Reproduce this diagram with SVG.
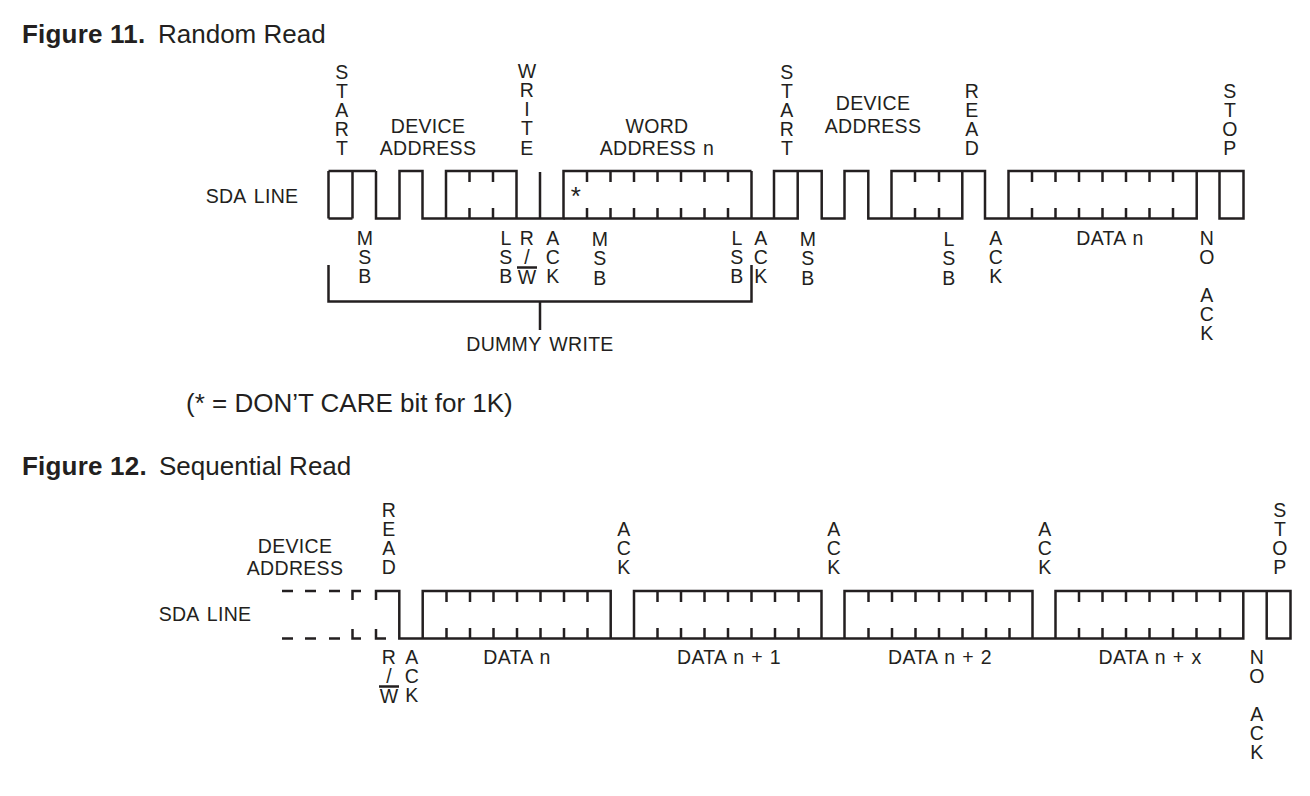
<svg xmlns="http://www.w3.org/2000/svg" width="1310" height="796" viewBox="0 0 1310 796">
<style>
text{font-family:"Liberation Sans",Arial,sans-serif;fill:#231f20}
.l{font-size:19.5px;text-anchor:middle;letter-spacing:.3px;word-spacing:2.5px}
.n{word-spacing:1.2px}
.h{font-size:26px}
.b{font-weight:bold;letter-spacing:.2px}
.w{fill:none;stroke:#231f20;stroke-width:2.5;stroke-linejoin:miter}
.d{fill:none;stroke:#231f20;stroke-width:2.5}
</style>
<rect width="1310" height="796" fill="#fff"/>
<g id="titles">
<text class="h b" x="22" y="42.5">Figure 11.</text>
<text class="h" x="158" y="42.5">Random Read</text>
<text class="h" x="186" y="412">(* = DON’T CARE bit for 1K)</text>
<text class="h b" x="22" y="475">Figure 12.</text>
<text class="h" x="159" y="475">Sequential Read</text>
</g>
<g id="connectors">
<path class="w" d="M328.5 171H376M328.5 218.5H352.5M328.5 171V218.5M352.5 171V218.5M376 171V218.5H399.5V171H422.5V218.5H563.5V171H751.5M446 218.5V171H516.5V218.5M540 172V218.5M469.5 171V182M493 171V182M469.5 218.5V208M493 218.5V208"/>
<path class="w" d="M563.5 218.5H774V171H821.7V218.5H844.5V171H868.3V218.5H962.3V171H985V218.5H1008.5V171H1243.5V218.5H1219.5V171M751.5 171V218.5M774 218.5H797.7V171M891.5 218.5V171H962.3M1008.5 218.5H1196.7V171"/>
<path class="w" d="M587 171V182M610.5 171V182M634 171V182M657.5 171V182M681 171V182M704.5 171V182M728 171V182M587 218.5V208M610.5 218.5V208M634 218.5V208M657.5 218.5V208M681 218.5V208M704.5 218.5V208M728 218.5V208M915 171V182M939 171V182M915 218.5V208M939 218.5V208M1032 171V182M1055.5 171V182M1079 171V182M1102.5 171V182M1126 171V182M1149.5 171V182M1173 171V182M1032 218.5V208M1055.5 218.5V208M1079 218.5V208M1102.5 218.5V208M1126 218.5V208M1149.5 218.5V208M1173 218.5V208"/>
<path class="w" d="M328.5 265V301.5H751.5V265M540 301.5V330"/>
<path class="d" d="M282 591H293M305 591H316M329 591H340M352.5 600V591H361M282 638.5H293M305 638.5H316M329 638.5H340M352.5 629V638.5H361M376 600V591H399.3V638.5H422.7V591H610.7V638.5H634V591H821.5V638.5H844.5V591H1032.5V638.5H1055.5V591H1290.5V638.5H1266.7V591M376 629V638.5H386M422.7 638.5H610.7M634 638.5H821.5M844.5 638.5H1032.5M1055.5 638.5H1243.3V591"/>
<path class="w" d="M446.5 591V602M470 591V602M493.5 591V602M517 591V602M540.5 591V602M564 591V602M587.5 591V602M446.5 638.5V628M470 638.5V628M493.5 638.5V628M517 638.5V628M540.5 638.5V628M564 638.5V628M587.5 638.5V628M657.5 591V602M681 591V602M704.5 591V602M728 591V602M751.5 591V602M775 591V602M798.5 591V602M657.5 638.5V628M681 638.5V628M704.5 638.5V628M728 638.5V628M751.5 638.5V628M775 638.5V628M798.5 638.5V628M868.5 591V602M892 591V602M915.5 591V602M939 591V602M962.5 591V602M986 591V602M1009.5 591V602M868.5 638.5V628M892 638.5V628M915.5 638.5V628M939 638.5V628M962.5 638.5V628M986 638.5V628M1009.5 638.5V628M1079 591V602M1102.5 591V602M1126 591V602M1149.5 591V602M1173 591V602M1196.5 591V602M1220 591V602M1079 638.5V628M1102.5 638.5V628M1126 638.5V628M1149.5 638.5V628M1173 638.5V628M1196.5 638.5V628M1220 638.5V628"/>
<path class="w" d="M517 267.5H537M379 686.5H399"/>
</g>
<g id="fig11-top">
<text class="l"><tspan x="342" y="79">S</tspan><tspan x="342" y="98">T</tspan><tspan x="342" y="117">A</tspan><tspan x="342" y="136">R</tspan><tspan x="342" y="155">T</tspan></text>
<text class="l"><tspan x="428" y="133">DEVICE</tspan><tspan x="428" y="155">ADDRESS</tspan></text>
<text class="l"><tspan x="527" y="78">W</tspan><tspan x="527" y="97">R</tspan><tspan x="527" y="116">I</tspan><tspan x="527" y="135">T</tspan><tspan x="527" y="155">E</tspan></text>
<text class="l n"><tspan x="657" y="133">WORD</tspan><tspan x="657" y="155">ADDRESS n</tspan></text>
<text class="l"><tspan x="787" y="79">S</tspan><tspan x="787" y="98">T</tspan><tspan x="787" y="117">A</tspan><tspan x="787" y="136">R</tspan><tspan x="787" y="155">T</tspan></text>
<text class="l"><tspan x="873" y="110">DEVICE</tspan><tspan x="873" y="133">ADDRESS</tspan></text>
<text class="l"><tspan x="972" y="98">R</tspan><tspan x="972" y="117">E</tspan><tspan x="972" y="136">A</tspan><tspan x="972" y="155">D</tspan></text>
<text class="l"><tspan x="1230" y="98">S</tspan><tspan x="1230" y="117">T</tspan><tspan x="1230" y="136">O</tspan><tspan x="1230" y="155">P</tspan></text>
<text class="l" x="252" y="203">SDA LINE</text>
<text class="l" x="576" y="205" style="font-size:26px">*</text>
</g>
<g id="fig11-bottom">
<text class="l"><tspan x="365" y="245">M</tspan><tspan x="365" y="264">S</tspan><tspan x="365" y="283">B</tspan></text>
<text class="l"><tspan x="506" y="245">L</tspan><tspan x="506" y="264">S</tspan><tspan x="506" y="283">B</tspan></text>
<text class="l"><tspan x="527" y="245">R</tspan><tspan x="527" y="264">/</tspan><tspan x="527" y="284">W</tspan></text>
<text class="l"><tspan x="553" y="245">A</tspan><tspan x="553" y="264">C</tspan><tspan x="553" y="283">K</tspan></text>
<text class="l"><tspan x="600" y="246">M</tspan><tspan x="600" y="265">S</tspan><tspan x="600" y="285">B</tspan></text>
<text class="l"><tspan x="737" y="245">L</tspan><tspan x="737" y="264">S</tspan><tspan x="737" y="283">B</tspan></text>
<text class="l"><tspan x="761" y="245">A</tspan><tspan x="761" y="264">C</tspan><tspan x="761" y="283">K</tspan></text>
<text class="l"><tspan x="808" y="246">M</tspan><tspan x="808" y="265">S</tspan><tspan x="808" y="285">B</tspan></text>
<text class="l"><tspan x="949" y="246">L</tspan><tspan x="949" y="265">S</tspan><tspan x="949" y="285">B</tspan></text>
<text class="l"><tspan x="996" y="245">A</tspan><tspan x="996" y="264">C</tspan><tspan x="996" y="283">K</tspan></text>
<text class="l n" x="1110" y="245">DATA n</text>
<text class="l"><tspan x="1207" y="245">N</tspan><tspan x="1207" y="264">O</tspan></text>
<text class="l"><tspan x="1207" y="302">A</tspan><tspan x="1207" y="321">C</tspan><tspan x="1207" y="340">K</tspan></text>
<text class="l" x="540" y="351">DUMMY WRITE</text>
</g>
<g id="fig12-top">
<text class="l"><tspan x="295" y="553">DEVICE</tspan><tspan x="295" y="575">ADDRESS</tspan></text>
<text class="l"><tspan x="389" y="517">R</tspan><tspan x="389" y="536">E</tspan><tspan x="389" y="555">A</tspan><tspan x="389" y="574">D</tspan></text>
<text class="l"><tspan x="624" y="536">A</tspan><tspan x="624" y="555">C</tspan><tspan x="624" y="574">K</tspan></text>
<text class="l"><tspan x="834" y="536">A</tspan><tspan x="834" y="555">C</tspan><tspan x="834" y="574">K</tspan></text>
<text class="l"><tspan x="1045" y="536">A</tspan><tspan x="1045" y="555">C</tspan><tspan x="1045" y="574">K</tspan></text>
<text class="l"><tspan x="1280" y="517">S</tspan><tspan x="1280" y="536">T</tspan><tspan x="1280" y="555">O</tspan><tspan x="1280" y="574">P</tspan></text>
<text class="l" x="205" y="621">SDA LINE</text>
</g>
<g id="fig12-bottom">
<text class="l"><tspan x="389" y="664">R</tspan><tspan x="389" y="683">/</tspan><tspan x="389" y="703">W</tspan></text>
<text class="l"><tspan x="412" y="664">A</tspan><tspan x="412" y="683">C</tspan><tspan x="412" y="702">K</tspan></text>
<text class="l n" x="517" y="664">DATA n</text>
<text class="l n" x="729" y="664">DATA n + 1</text>
<text class="l n" x="940" y="664">DATA n + 2</text>
<text class="l n" x="1150" y="664">DATA n + x</text>
<text class="l"><tspan x="1257" y="664">N</tspan><tspan x="1257" y="683">O</tspan></text>
<text class="l"><tspan x="1257" y="721">A</tspan><tspan x="1257" y="740">C</tspan><tspan x="1257" y="759">K</tspan></text>
</g>
</svg>
